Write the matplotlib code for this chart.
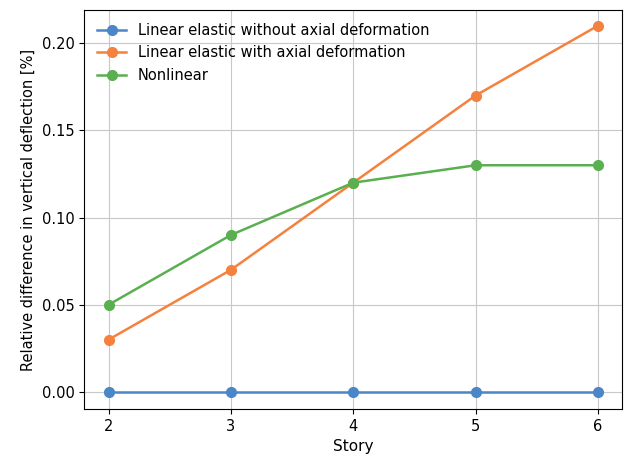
import matplotlib
matplotlib.use('Agg')
import matplotlib.pyplot as plt

# Data
story = [2, 3, 4, 5, 6]
no_axial = [0.0, 0.0, 0.0, 0.0, 0.0]
with_axial = [0.03, 0.07, 0.12, 0.17, 0.21]
nonlinear = [0.05, 0.09, 0.12, 0.13, 0.13]

fig = plt.figure(figsize=(6.28, 4.58), dpi=100)
ax = fig.add_axes([0.134, 0.107, 0.857, 0.871])

ax.plot(story, no_axial, '-o', color='#4a86c8', ms=7, lw=1.8,
        label='Linear elastic without axial deformation')
ax.plot(story, with_axial, '-o', color='#f5813e', ms=7, lw=1.8,
        label='Linear elastic with axial deformation')
ax.plot(story, nonlinear, '-o', color='#5aaf50', ms=7, lw=1.8,
        label='Nonlinear')

ax.set_xticks(story)
ax.set_yticks([0.0, 0.05, 0.10, 0.15, 0.20])
ax.set_yticklabels(['0.00', '0.05', '0.10', '0.15', '0.20'])
ax.set_xlim(1.8, 6.2)
ax.set_ylim(-0.0098, 0.219)
ax.grid(True, color='#c8c8c8', lw=0.8)
ax.set_xlabel('Story', fontsize=11)
ax.set_ylabel('Relative difference in vertical deflection [%]', fontsize=10.5)
ax.tick_params(labelsize=10.5)
ax.legend(loc='upper left', frameon=False, fontsize=10.5)

fig.savefig('out.png', dpi=100)
